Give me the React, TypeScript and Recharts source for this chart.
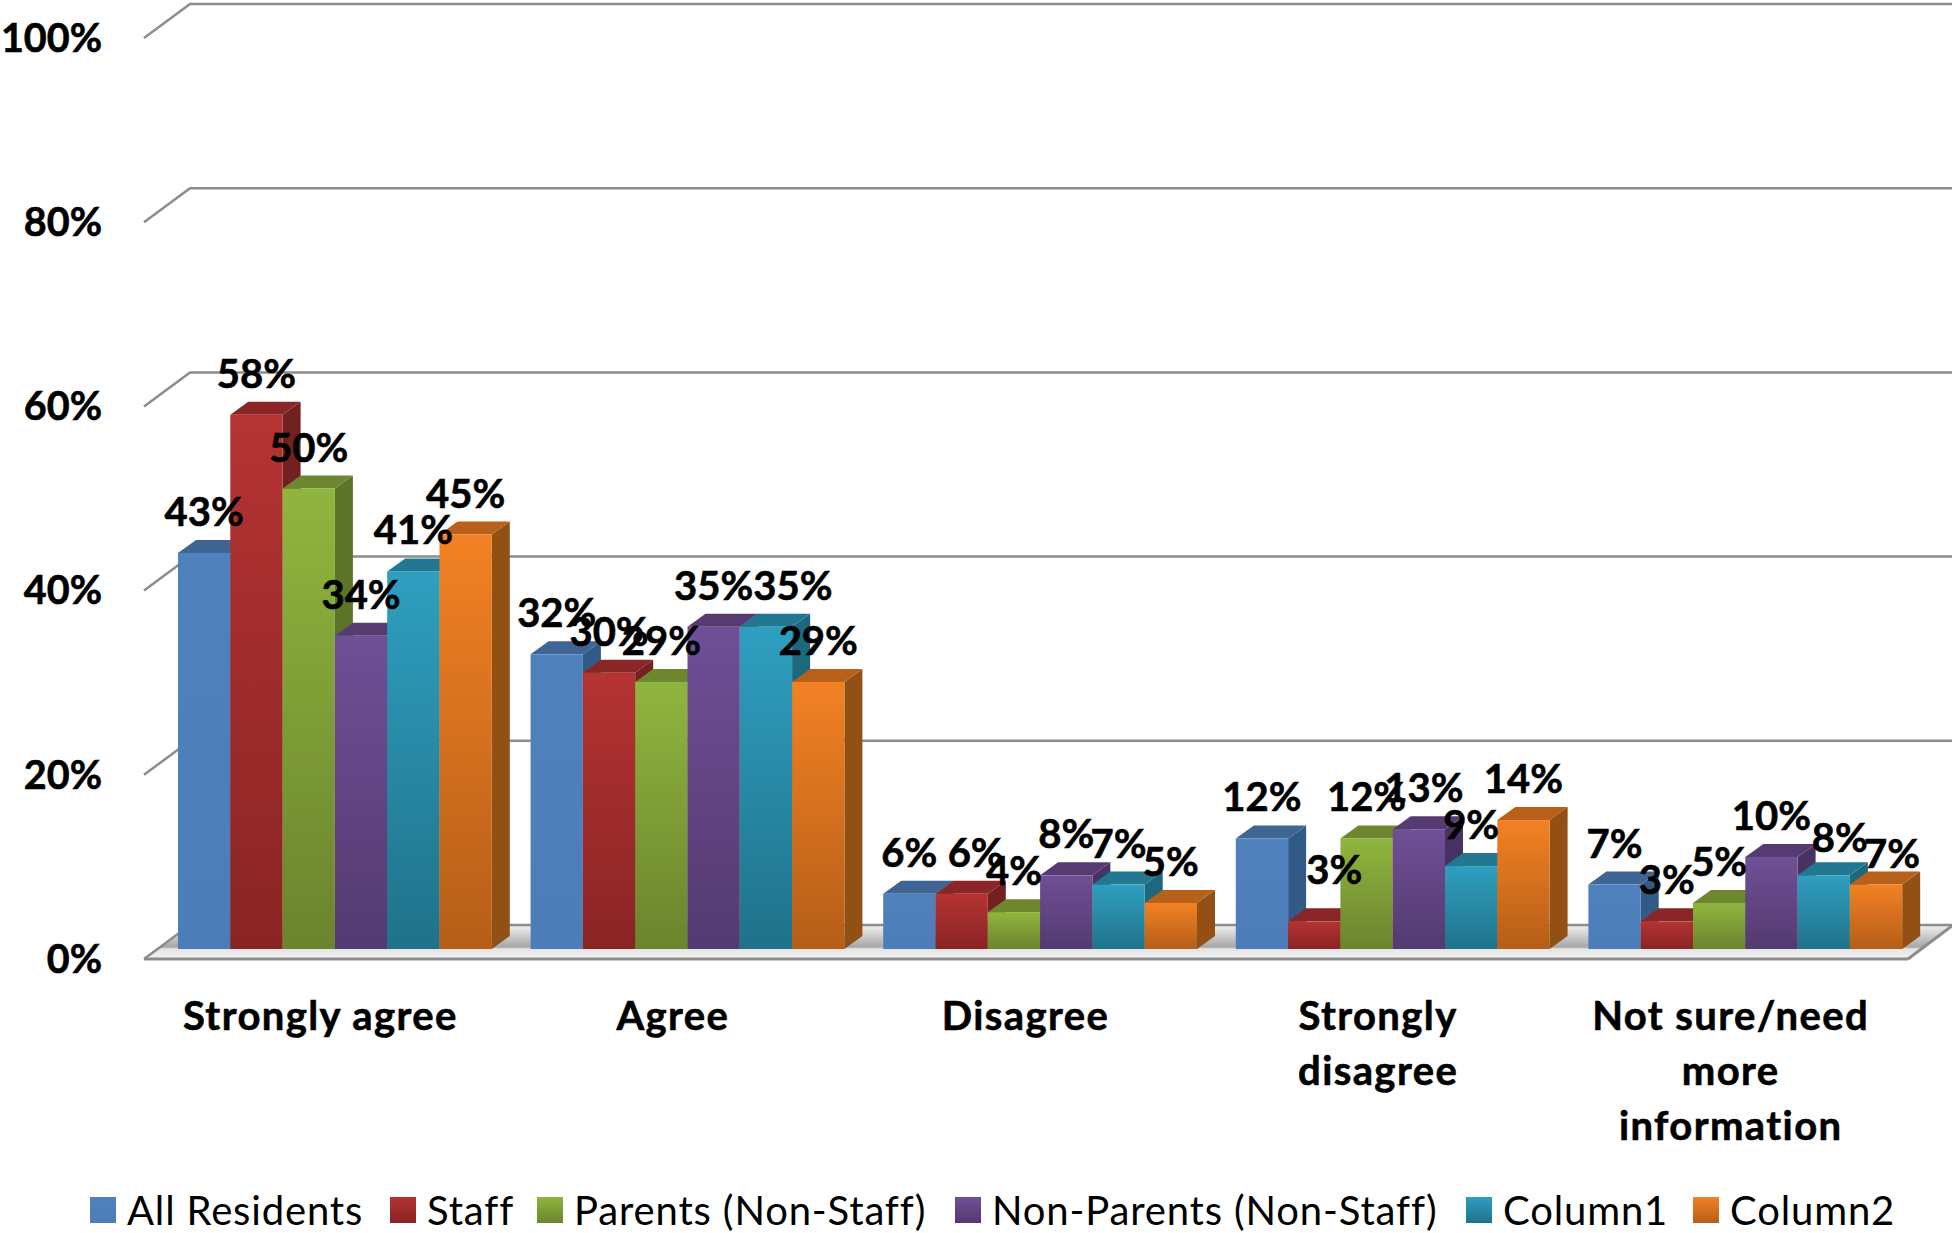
import { BarChart, Bar, XAxis, YAxis, CartesianGrid, Legend, LabelList } from 'recharts'

const categories = ['Strongly agree', 'Agree', 'Disagree', 'Strongly disagree', 'Not sure/need more information']
const categoryLines: Record<string, string[]> = {
  'Strongly disagree': ['Strongly', 'disagree'],
  'Not sure/need more information': ['Not sure/need', 'more', 'information'],
}

const allResidents = [43, 32, 6, 12, 7]
const staff = [58, 30, 6, 3, 3]
const parents = [50, 29, 4, 12, 5]
const nonParents = [34, 35, 8, 13, 10]
const column1 = [41, 35, 7, 9, 8]
const column2 = [45, 29, 5, 14, 7]
const yTicks = [0, 20, 40, 60, 80, 100]

const data = categories.map((name, i) => ({
  name,
  allResidents: allResidents[i],
  staff: staff[i],
  parents: parents[i],
  nonParents: nonParents[i],
  column1: column1[i],
  column2: column2[i],
}))

const series = [
  { key: 'allResidents', name: 'All Residents', top: '#4F81BD', bottom: '#4C7DB8', roof: '#3E6594', side: '#325A87' },
  { key: 'staff', name: 'Staff', top: '#B53333', bottom: '#8A2424', roof: '#8A2626', side: '#722020' },
  { key: 'parents', name: 'Parents (Non-Staff)', top: '#90B53E', bottom: '#6B842E', roof: '#6D872F', side: '#5C7328' },
  { key: 'nonParents', name: 'Non-Parents (Non-Staff)', top: '#704F96', bottom: '#533A70', roof: '#553B72', side: '#483262' },
  { key: 'column1', name: 'Column1', top: '#2F9FC0', bottom: '#20728A', roof: '#237891', side: '#1E687E' },
  { key: 'column2', name: 'Column2', top: '#F28124', bottom: '#B55E18', roof: '#B8601A', side: '#935014' },
]

// hand moved data labels in the original, [dx, dy]
const labelNudge: Record<string, number[]> = {
  'staff-2': [14, 0],
  'staff-3': [20, -10],
  'nonParents-3': [5, 0],
  'column1-1': [27, 0],
  'column1-4': [16, 4],
  'column2-4': [16, 10],
}

const legendLeft = [90, 390, 537, 955, 1466, 1693]

const FONT = 'Lato, Carlito, sans-serif'
const BAR_SIZE = 52.3
const DEPTH_X = 18
const DEPTH_Y = 13
// the wall sits behind the bars, the front edge of the floor in front of them
const WALL_FRONT_X = 144
const WALL_BACK_X = 190
const FRONT_DY = 10
const BACK_DY = -24
const BASELINE = 949

function Bar3D(props: any, s: (typeof series)[number]) {
  const { x, y, width, height } = props
  if (!height) return <g />
  const r = x + width
  return (
    <g>
      <polygon
        points={`${r},${y} ${r + DEPTH_X},${y - DEPTH_Y} ${r + DEPTH_X},${y + height - DEPTH_Y} ${r},${y + height}`}
        fill={s.side}
      />
      <polygon
        points={`${x},${y} ${x + DEPTH_X},${y - DEPTH_Y} ${r + DEPTH_X},${y - DEPTH_Y} ${r},${y}`}
        fill={s.roof}
      />
      <rect x={x} y={y} width={width} height={height} fill={`url(#grad-${s.key})`} />
    </g>
  )
}

function GridLine3D(props: any) {
  const { y1, x2 } = props
  const front = y1 + FRONT_DY
  const back = y1 + BACK_DY
  const isFloor = Math.abs(y1 - BASELINE) < 1
  return (
    <g>
      {isFloor && (
        <polygon
          points={`${WALL_FRONT_X},${front} ${WALL_BACK_X},${back} ${x2 + 31},${back} 1908,${front}`}
          fill="url(#floor)"
        />
      )}
      {isFloor && <line x1={WALL_FRONT_X} y1={front} x2={1908} y2={front} stroke="#8C8C8C" strokeWidth={3} />}
      {isFloor && <line x1={1908} y1={front} x2={x2 + 31} y2={back} stroke="#8C8C8C" strokeWidth={3} />}
      <polyline
        points={`${WALL_FRONT_X},${front} ${WALL_BACK_X},${back} ${x2 + 31},${back}`}
        fill="none"
        stroke="#8C8C8C"
        strokeWidth={2.5}
      />
    </g>
  )
}

function YTick(props: any) {
  const { x, y, payload } = props
  return (
    <text
      x={x}
      y={y + FRONT_DY}
      dy="0.35em"
      textAnchor="end"
      fontFamily={FONT}
      fontWeight={700}
      fontSize={39.5}
      stroke="#000"
      strokeWidth={0.6}
      fill="#000"
    >
      {payload.value}%
    </text>
  )
}

function XTick(props: any) {
  const { x, y, payload } = props
  const lines = categoryLines[payload.value] || [payload.value]
  return (
    <g>
      {lines.map((line, i) => (
        <text
          key={line}
          x={x - 15}
          y={y + 1016 - BASELINE + i * 55}
          dy="0.35em"
          textAnchor="middle"
          fontFamily={FONT}
          fontWeight={700}
          fontSize={40}
          letterSpacing={1.4}
          stroke="#000"
          strokeWidth={0.6}
          fill="#000"
        >
          {line}
        </text>
      ))}
    </g>
  )
}

function valueLabel(key: string) {
  return (props: any) => {
    const { x, y, width, value, index } = props
    const [dx, dy] = labelNudge[`${key}-${index}`] || [0, 0]
    return (
      <text
        x={x + width / 2 + dx}
        y={y - 41 + dy}
        dy="0.35em"
        textAnchor="middle"
        fontFamily={FONT}
        fontWeight={700}
        fontSize={40}
        stroke="#000"
        strokeWidth={0.6}
        fill="#000"
      >
        {value}%
      </text>
    )
  }
}

function LegendRow() {
  return (
    <div style={{ position: 'relative', width: 1952, height: 50 }}>
      {series.map((s, i) => (
        <div
          key={s.key}
          style={{ position: 'absolute', left: legendLeft[i], top: 0, display: 'flex', alignItems: 'center', height: 50 }}
        >
          <span
            style={{
              width: 26,
              height: 26,
              marginRight: 11,
              background: `linear-gradient(${s.top}, ${s.bottom})`,
            }}
          />
          <span style={{ fontFamily: FONT, fontSize: 40, letterSpacing: 0.85, color: '#000', whiteSpace: 'nowrap' }}>
            {s.name}
          </span>
        </div>
      ))}
    </div>
  )
}

export default function App() {
  return (
    <div style={{ position: 'absolute', left: 0, top: 0, background: '#fff' }}>
      <BarChart
        width={1952}
        height={1233}
        data={data}
        margin={{ top: 28, right: 30, left: 0, bottom: 0 }}
        barGap={0}
      >
        <defs>
          {series.map(s => (
            <linearGradient key={s.key} id={`grad-${s.key}`} x1="0" y1="0" x2="0" y2="1">
              <stop offset="0" stopColor={s.top} />
              <stop offset="1" stopColor={s.bottom} />
            </linearGradient>
          ))}
          <linearGradient id="floor" x1="0" y1="0" x2="0" y2="1">
            <stop offset="0" stopColor="#F2F2F2" />
            <stop offset="0.65" stopColor="#A6A6A6" />
            <stop offset="0.7" stopColor="#E4E4E4" />
            <stop offset="1" stopColor="#F4F4F4" />
          </linearGradient>
        </defs>
        <CartesianGrid vertical={false} horizontal={GridLine3D} />
        <XAxis dataKey="name" height={284} axisLine={false} tickLine={false} interval={0} tick={XTick} tickSize={0} tickMargin={0} />
        <XAxis xAxisId="labels" dataKey="name" hide />
        <YAxis
          domain={[0, 100]}
          ticks={yTicks}
          width={159}
          axisLine={false}
          tickLine={false}
          tickSize={0}
          tickMargin={57}
          tick={YTick}
        />
        {series.map(s => (
          <Bar
            key={s.key}
            dataKey={s.key}
            name={s.name}
            fill={s.top}
            barSize={BAR_SIZE}
            isAnimationActive={false}
            shape={(p: any) => Bar3D(p, s)}
          />
        ))}
        {/* second run of bars only to get the labels above every column */}
        {series.map(s => (
          <Bar
            key={`label-${s.key}`}
            xAxisId="labels"
            dataKey={s.key}
            fill="none"
            barSize={BAR_SIZE}
            legendType="none"
            isAnimationActive={false}
          >
            <LabelList dataKey={s.key} content={valueLabel(s.key)} />
          </Bar>
        ))}
        <Legend
          layout="horizontal"
          verticalAlign="middle"
          wrapperStyle={{ left: 0, top: 1185, width: 1952 }}
          content={LegendRow}
        />
      </BarChart>
    </div>
  )
}
